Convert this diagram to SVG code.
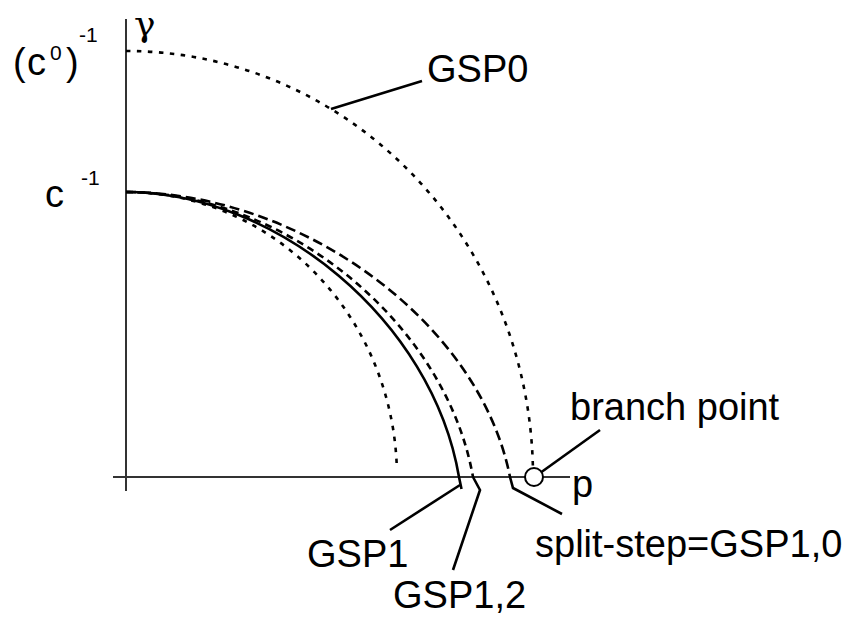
<svg xmlns="http://www.w3.org/2000/svg" width="865" height="620" viewBox="0 0 865 620">
<style>
text{font-family:"Liberation Sans",Arial,sans-serif;font-size:38px;fill:#000}
.sup{font-size:21px}
.greek{font-family:"DejaVu Serif","Liberation Serif",serif;font-size:36px}
.axis{stroke:#333;stroke-width:2;fill:none}
.crv{fill:none;stroke:#000;stroke-width:2.6}
.dot{stroke-dasharray:4.5 6.5}
.dash{stroke-dasharray:10 5}
.mdash{stroke-dasharray:7 5}
.lead{fill:none;stroke:#000;stroke-width:2.6}
</style>
<rect width="865" height="620" fill="#fff"/>
<g id="axes">
<line class="axis" x1="126" y1="19" x2="126" y2="491"/>
<line class="axis" x1="113" y1="477" x2="570" y2="477"/>
</g>
<g id="curves">
<path id="GSP0-curve" class="crv dot" d="M126,51 A407,426 0 0 1 532.9,467"/>
<path id="inner-dotted" class="crv dot" d="M126,192 A271,285 0 0 1 396.8,467"/>
<path id="GSP1-curve" class="crv" d="M126,192 C275.9,192 432.4,320.25 459,477 L461.5,489"/>
<path id="GSP12-curve" class="crv mdash" d="M126,192 C282.2,192 445.2,320.25 473,477"/>
<path id="split-curve" class="crv dash" d="M126,192 C298.8,192 479.3,320.25 510,477"/>
</g>
<g id="connectors">
<line class="lead" x1="331" y1="109" x2="422" y2="81"/>
<line class="lead" x1="541.5" y1="472" x2="600" y2="430"/>
<line class="lead" x1="390" y1="530" x2="460" y2="485"/>
<polyline class="lead" points="473,477 480,490 453,570"/>
<polyline class="lead" points="510,477 513,488 562,514"/>
</g>
<g id="branch-point">
<circle cx="534" cy="477" r="9" fill="#fff" stroke="#000" stroke-width="2"/>
</g>
<g id="labels">
<text x="13" y="75">(</text>
<text x="27" y="75">c</text>
<text class="sup" x="50" y="60">0</text>
<text x="66" y="75">)</text>
<text class="sup" x="79" y="42">-1</text>
<text class="greek" x="134" y="36">γ</text>
<text x="45" y="207">c</text>
<text class="sup" x="81" y="185">-1</text>
<text x="427" y="82">GSP0</text>
<text x="570" y="420">branch point</text>
<text x="572" y="497">p</text>
<text x="307" y="567">GSP1</text>
<text x="393" y="608">GSP1,2</text>
<text x="535" y="557">split-step=GSP1,0</text>
</g>
</svg>
